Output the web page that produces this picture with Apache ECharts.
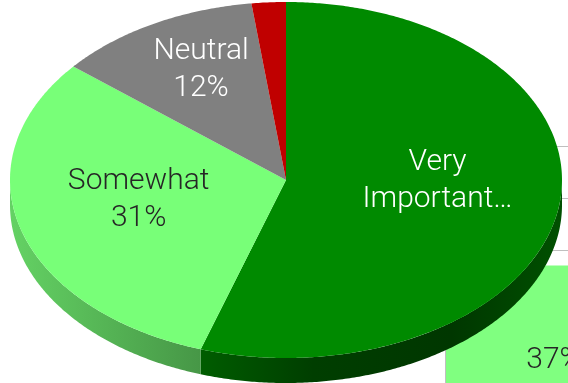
<!DOCTYPE html>
<html>
<head>
<meta charset="utf-8">
<script src="https://cdn.jsdelivr.net/npm/echarts@6/dist/echarts.min.js"></script>
<style>
  html, body { margin: 0; padding: 0; background: #ffffff; }
  #chart { width: 568px; height: 383px; }
</style>
</head>
<body>
<div id="chart"></div>
<script>
// Importance shares, laid out clockwise from 12 o'clock
const sliceNames = ['Very Important', 'Somewhat', 'Neutral', 'Not Important'];
const sliceValues = [55, 31, 12, 2];

// Column chart sitting behind the pie
const barCategories = ['', ''];
const barValues = [37, '-'];
const barAxisMin = 0;
const barAxisMax = 60;
const barAxisStep = 10;

// Tilted-disc geometry
const CX = 286, CY = 180, RX = 276, RY = 178, DEPTH = 25;
const FONT = 'Roboto, "Liberation Sans", Arial, sans-serif';

const topColors = ['#008A00', '#78FF78', '#808080', '#C00000'];
const labelColors = ['#FFFFFF', '#262626', '#FFFFFF', '#FFFFFF'];
// small per-slice nudges for the label anchors
const labelNudge = [[0, -2], [0, 3], [-11, 4], [0, 0]];
const sideStops = [
  [[0, '#006400'], [0.35, '#005C00'], [0.55, '#003E00'], [0.8, '#003700'], [1, '#005000']],
  [[0, '#64D264'], [0.35, '#469646'], [1, '#3C803C']],
  [[0, '#5A5A5A'], [1, '#404040']],
  [[0, '#8A0000'], [1, '#600000']]
];

const total = sliceValues.reduce((s, v) => s + v, 0);
const starts = [];
sliceValues.reduce((acc, v) => { starts.push(acc); return acc + v; }, 0);

function angleRange(i) {
  const a = starts[i] / total * Math.PI * 2;
  const b = (starts[i] + sliceValues[i]) / total * Math.PI * 2;
  return [a, b];
}

// theta measured clockwise from 12 o'clock
function rimPoint(theta, drop) {
  return [CX + RX * Math.sin(theta), CY + drop - RY * Math.cos(theta)];
}

function arc(a, b, drop) {
  const n = Math.max(2, Math.ceil((b - a) / (Math.PI / 360)));
  const pts = [];
  for (let k = 0; k <= n; k++) pts.push(rimPoint(a + (b - a) * k / n, drop));
  return pts;
}

function labelFor(i) {
  if (i === 0) return 'Very\nImportant…';
  if (sliceValues[i] < 5) return '';
  return sliceNames[i] + '\n' + sliceValues[i] + '%';
}

function renderSide(params) {
  const i = params.dataIndex;
  const [a0, b0] = angleRange(i);
  const a = Math.max(a0, Math.PI / 2);
  const b = Math.min(b0, Math.PI * 1.5);
  if (b <= a) return null;
  const pts = arc(a, b, 0).concat(arc(a, b, DEPTH).reverse());
  return {
    type: 'polygon',
    shape: { points: pts },
    style: {
      fill: {
        type: 'linear', x: CX - RX, y: 0, x2: CX + RX, y2: 0, global: true,
        colorStops: sideStops[i].map(s => ({ offset: s[0], color: s[1] }))
      }
    }
  };
}

function renderTop(params) {
  const i = params.dataIndex;
  const [a, b] = angleRange(i);
  const pts = [[CX, CY]].concat(arc(a, b, 0));
  const mid = (a + b) / 2;
  return {
    type: 'group',
    children: [
      { type: 'polygon', shape: { points: pts }, style: { fill: topColors[i] } },
      {
        type: 'text',
        x: CX + RX * 0.556 * Math.sin(mid) + labelNudge[i][0],
        y: CY - 15 - RY * 0.635 * Math.cos(mid) + labelNudge[i][1],
        z2: 10,
        style: {
          text: labelFor(i),
          fill: labelColors[i],
          fontSize: 30,
          fontWeight: 300,
          fontFamily: FONT,
          lineHeight: 37,
          align: 'center',
          verticalAlign: 'middle'
        }
      }
    ]
  };
}

const chart = echarts.init(document.getElementById('chart'), null, { renderer: 'canvas' });
chart.setOption({
  animation: false,
  backgroundColor: '#ffffff',
  grid: {
    left: 445, top: 146, width: 436, height: 312,
    containLabel: false,
    outerBoundsMode: 'none'
  },
  xAxis: {
    type: 'category',
    data: barCategories,
    boundaryGap: true,
    axisLine: { show: false },
    axisTick: { show: false },
    axisLabel: { show: false },
    splitLine: { show: false }
  },
  yAxis: {
    type: 'value',
    min: barAxisMin,
    max: barAxisMax,
    interval: barAxisStep,
    axisLine: { show: true, lineStyle: { color: '#BFBFBF', width: 1 } },
    axisTick: { show: false },
    axisLabel: { show: false },
    splitLine: { show: true, lineStyle: { color: '#BFBFBF', width: 1 } }
  },
  series: [
    {
      type: 'bar',
      data: barValues,
      barWidth: 216,
      z: 2,
      itemStyle: { color: '#80FF80' },
      label: {
        show: true,
        position: 'inside',
        offset: [0, -1],
        formatter: '{c}%',
        color: '#262626',
        fontSize: 30,
        fontWeight: 300,
        fontFamily: FONT
      }
    },
    {
      type: 'custom',
      coordinateSystem: 'none',
      z: 10,
      silent: true,
      data: sliceValues,
      renderItem: renderSide
    },
    {
      type: 'custom',
      coordinateSystem: 'none',
      z: 11,
      silent: true,
      data: sliceValues,
      renderItem: renderTop
    }
  ]
});
</script>
</body>
</html>
